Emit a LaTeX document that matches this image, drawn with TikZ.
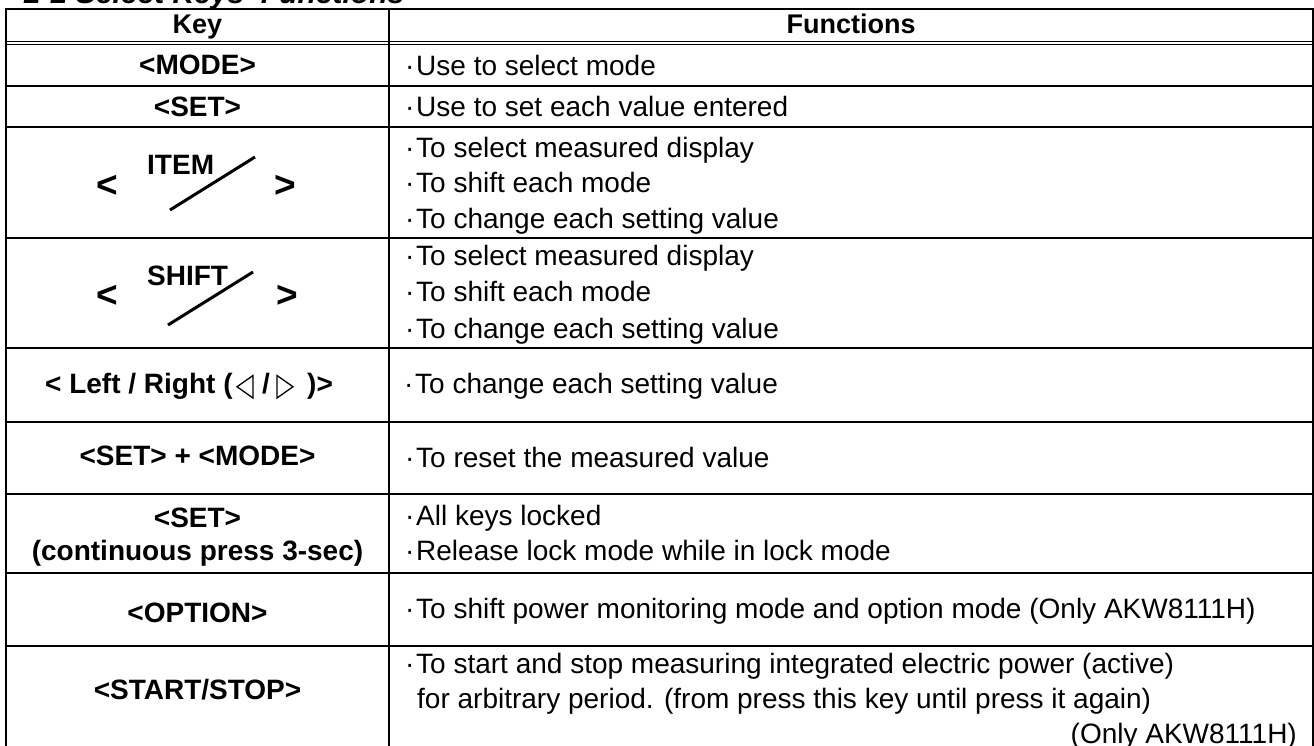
\documentclass[tikz,border=0pt]{standalone}
\usepackage{fontspec}
\setmainfont{Liberation Sans}
\newcommand\bodyfont{\fontsize{28}{35}\selectfont}
\newcommand\mybul{\makebox[13pt][l]{\hspace{2pt}·}}
\begin{document}
\begin{tikzpicture}[x=1pt,y=-1pt,
  rule/.style={line width=2pt},
  thinrule/.style={line width=1.2pt},
  keytxt/.style={font=\bfseries\bodyfont, anchor=base, inner sep=0pt},
  headtxt/.style={font=\bfseries\fontsize{27}{32}\selectfont, anchor=base, inner sep=0pt},
  fntxt/.style={font=\bodyfont, anchor=base west, inner sep=0pt},
  angtxt/.style={font=\bfseries\fontsize{37}{44}\selectfont, anchor=base, inner sep=0pt},
  slash/.style={line width=3pt},
  tri/.style={line width=1.3pt, line join=miter}]
\useasboundingbox (0,0) rectangle (1314,745);
% title (cut off at the top)
\node[font=\bfseries\itshape\fontsize{30}{36}\selectfont, anchor=base west, inner sep=0pt] (title) at (24,3.5) {2-2 Select Keys' Functions};
% table rules
\draw[rule] (5,9) -- (1314,9);
\draw[rule] (6,9) -- (6,750);
\draw[rule] (389,9) -- (389,750);
\draw[rule] (1313,9) -- (1313,750);
\draw[thinrule] (6,41.8) -- (1313,41.8);
\draw[thinrule] (6,44.6) -- (1313,44.6);
\foreach \yy in {86,127,237.5,348,422,494,573,646} \draw[rule] (6,\yy) -- (1313,\yy);
% header
\node[headtxt] (hkey) at (197.5,33) {Key};
\node[headtxt] (hfun) at (851,33) {Functions};
% MODE
\node[keytxt] (kmode) at (197.5,74.5) {<MODE>};
\node[fntxt] (fmode) at (403,75) {\mybul Use to select mode};
% SET
\node[keytxt] (kset) at (197.5,116) {<SET>};
\node[fntxt] (fset) at (403,116) {\mybul Use to set each value entered};
% ITEM
\node[angtxt] (ilt) at (107.5,197.5) {<};
\node[keytxt, anchor=base west] (item) at (147,174) {ITEM};
\node[angtxt] (igt) at (285.5,197.5) {>};
\coordinate (is1) at (170,210);
\coordinate (is2) at (255,157);
\draw[slash] (is1) -- (is2);
\node[fntxt] (fi1) at (403,157) {\mybul To select measured display};
\node[fntxt] (fi2) at (403,192.5) {\mybul To shift each mode};
\node[fntxt] (fi3) at (403,228) {\mybul To change each setting value};
% SHIFT
\node[angtxt] (slt) at (107.5,307.5) {<};
\node[keytxt, anchor=base west] (shift) at (147,285) {SHIFT};
\node[angtxt] (sgt) at (287,307.5) {>};
\coordinate (ss1) at (168,325);
\coordinate (ss2) at (253,272);
\draw[slash] (ss1) -- (ss2);
\node[fntxt] (fs1) at (403,265) {\mybul To select measured display};
\node[fntxt] (fs2) at (403,301.5) {\mybul To shift each mode};
\node[fntxt] (fs3) at (403,338) {\mybul To change each setting value};
% Left / Right
\node[keytxt, anchor=base west] (lr1) at (45,393) {< Left / Right (};
\draw[tri] (253,375.5) -- (253,398) -- (237,386.75) -- cycle;
\node[keytxt, anchor=base west] (lr2) at (262,393) {/};
\draw[tri] (277,375.5) -- (277,398) -- (293,386.75) -- cycle;
\node[keytxt, anchor=base west] (lr3) at (307,393) {)>};
\node[fntxt] (flr) at (402,393) {\mybul To change each setting value};
% SET + MODE
\node[keytxt] (ksm) at (197.5,465) {<SET> + <MODE>};
\node[fntxt] (fsm) at (403,467) {\mybul To reset the measured value};
% SET continuous
\node[keytxt] (kc1) at (197.5,527) {<SET>};
\node[keytxt] (kc2) at (197.5,560) {(continuous press 3-sec)};
\node[fntxt] (fc1) at (403,525) {\mybul All keys locked};
\node[fntxt] (fc2) at (403,560) {\mybul Release lock mode while in lock mode};
% OPTION
\node[keytxt] (kopt) at (197.5,622) {<OPTION>};
\node[fntxt] (fopt) at (403,618) {\mybul To shift power monitoring mode and option mode (Only AKW8111H)};
% START/STOP
\node[keytxt] (kss) at (197.5,699) {<START/STOP>};
\node[fntxt] (fss1) at (403,673) {\mybul To start and stop measuring integrated electric power (active)};
\node[fntxt] (fss2) at (417,708) {for arbitrary period. (from press this key until press it again)};
\node[font=\bodyfont, anchor=base east, inner sep=0pt] (fss3) at (1297,743) {(Only AKW8111H)};
\end{tikzpicture}
\end{document}
